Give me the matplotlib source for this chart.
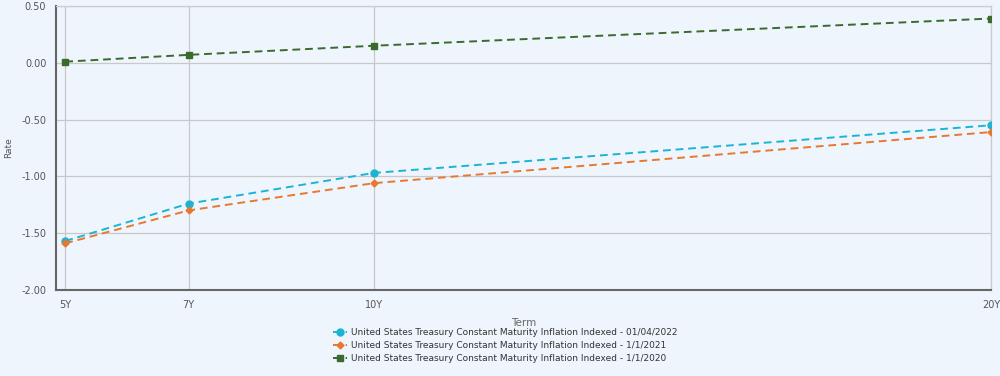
import matplotlib
matplotlib.use("Agg")
import matplotlib.pyplot as plt

terms = [5, 7, 10, 20]
term_labels = ["5Y", "7Y", "10Y", "20Y"]
series_2022 = [-1.57, -1.24, -0.97, -0.55]
series_2021 = [-1.59, -1.30, -1.06, -0.61]
series_2020 = [0.01, 0.07, 0.15, 0.39]
labels = [
    "United States Treasury Constant Maturity Inflation Indexed - 01/04/2022",
    "United States Treasury Constant Maturity Inflation Indexed - 1/1/2021",
    "United States Treasury Constant Maturity Inflation Indexed - 1/1/2020",
]
yticks = [-2.0, -1.5, -1.0, -0.5, 0.0, 0.5]

bg = "#EEF5FC"
fig = plt.figure(figsize=(10, 3.76), dpi=100, facecolor=bg)
ax = fig.add_axes([0.056, 0.229, 0.935, 0.755], facecolor=bg)

ax.plot(terms, series_2022, ls="--", color="#1DB4D4", marker="o", ms=5, lw=1.4, dashes=(4, 2.5), label=labels[0], zorder=3)
ax.plot(terms, series_2021, ls="--", color="#E8782F", marker="D", ms=3.5, lw=1.4, dashes=(4, 2.5), label=labels[1], zorder=3)
ax.plot(terms, series_2020, ls="--", color="#3A6A2C", marker="s", ms=5, lw=1.4, dashes=(4, 2.5), label=labels[2], zorder=3)

ax.set_xlim(4.85, 20.0)
ax.set_ylim(-2.0, 0.5)
ax.set_xticks(terms)
ax.set_xticklabels(term_labels)
ax.set_yticks(yticks)
ax.set_yticklabels([f"{v:.2f}" for v in yticks])
ax.grid(True, color="#C8C8C8", lw=0.9)
ax.set_axisbelow(True)
ax.tick_params(length=0, labelsize=7, colors="#555555", pad=7)
for s in ["top", "right"]:
    ax.spines[s].set_color("#CCCCCC")
    ax.spines[s].set_linewidth(0.9)
for s in ["left", "bottom"]:
    ax.spines[s].set_color("#666666")
    ax.spines[s].set_linewidth(1.5)

ax.set_xlabel("Term", fontsize=7.5, color="#666666", labelpad=6)
ax.set_ylabel("Rate", fontsize=6.5, color="#555555", labelpad=6)

leg = fig.legend(loc="upper center", bbox_to_anchor=(0.505, 0.15), frameon=False,
                 fontsize=6.5, handlelength=1.6, labelspacing=0.45, handletextpad=0.4)
for t in leg.get_texts():
    t.set_color("#333333")

fig.savefig("out.png", dpi=100, facecolor=bg)
